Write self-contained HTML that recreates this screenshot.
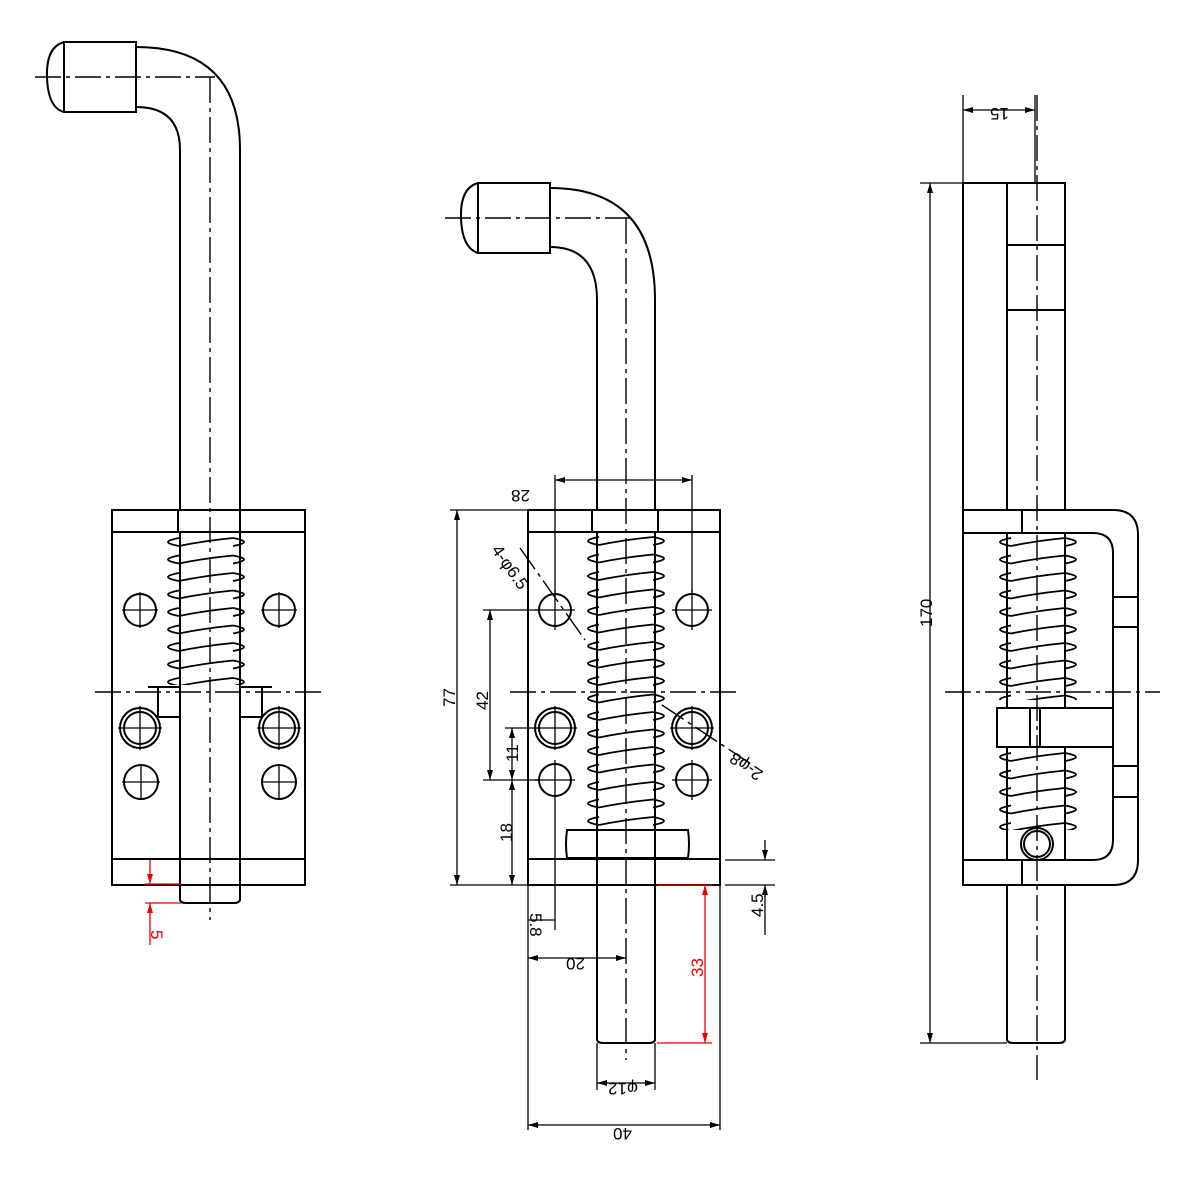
<!DOCTYPE html>
<html><head><meta charset="utf-8"><style>
html,body{margin:0;padding:0;background:#fff;}
svg{display:block;}
text{font-family:"Liberation Sans",sans-serif;font-size:17px;fill:#000;}
</style></head><body>
<svg width="1181" height="1181" viewBox="0 0 1181 1181" xmlns="http://www.w3.org/2000/svg">
<defs>
<pattern id="sp" patternUnits="userSpaceOnUse" width="86" height="17.5">
<path d="M16,3 Q-6,7 16,11 M70,3 Q92,7 70,11 M16,11 Q40,6 70,3" fill="none" stroke="#000" stroke-width="1.8"/>
</pattern>
<marker id="ar" markerWidth="10" markerHeight="6" refX="10" refY="3" orient="auto-start-reverse" markerUnits="userSpaceOnUse"><path d="M0,0 L10,3 L0,6z" fill="#000"/></marker>
<marker id="arr" markerWidth="10" markerHeight="6" refX="10" refY="3" orient="auto-start-reverse" markerUnits="userSpaceOnUse"><path d="M0,0 L10,3 L0,6z" fill="#e00"/></marker>
</defs>
<g fill="none" stroke="#000" stroke-width="2">
<!-- LEFT VIEW -->
<path d="M64,42 H136 V112 H64 Z M64,42 Q46,47 47,77 Q48,108 64,112"/>
<path d="M136,47 Q240,47 240,150 V510 M136,107 Q180,107 180,150 V510"/>
<rect x="112" y="510" width="193" height="375"/>
<path d="M112,532 H305 M112,859 H305 M178,510 V532 M240,510 V532"/>
<g transform="translate(163,535)"><rect width="86" height="150" fill="url(#sp)" stroke="none"/></g>
<path d="M180,532 V900 Q181,903 186,903 H234 Q239,903 240,900 V532"/>
<path d="M148,687 H180 V717 H158 V688 M272,687 H240 V717 H262 V688"/>
<circle cx="140" cy="610" r="16"/><circle cx="279" cy="610" r="16"/>
<circle cx="140" cy="728" r="20"/><circle cx="140" cy="728" r="16"/>
<circle cx="279" cy="728" r="20"/><circle cx="279" cy="728" r="16"/>
<circle cx="141" cy="782" r="17"/><circle cx="279" cy="782" r="17"/>
<!-- MIDDLE VIEW -->
<path d="M478,183 H550 V253 H478 Z M478,183 Q460,188 461,218 Q462,248 478,253"/>
<path d="M550,188 Q655,188 655,300 V510 M550,247 Q597,247 597,300 V510"/>
<rect x="528" y="510" width="192" height="375"/>
<path d="M528,532 H720 M528,859 H720 M592,510 V532 M658,510 V532"/>
<g transform="translate(583,534)"><rect width="86" height="297" fill="url(#sp)" stroke="none"/></g>
<path d="M597,532 V1040 Q598,1043 603,1043 H649 Q654,1043 655,1040 V532"/>
<path d="M567,830 H688 Q690,844 688,858 H567 Q565,844 567,830 Z"/>
<circle cx="555" cy="610" r="16"/><circle cx="692" cy="610" r="16"/>
<circle cx="555" cy="728" r="20"/><circle cx="555" cy="728" r="16"/>
<circle cx="692" cy="728" r="20"/><circle cx="692" cy="728" r="16"/>
<circle cx="555" cy="780" r="16"/><circle cx="692" cy="780" r="16"/>
<!-- RIGHT VIEW -->
<path d="M963,183 H1065 V1040 Q1064,1043 1059,1043 H1013 Q1008,1043 1007,1040 V183 M963,183 V510 M1007,245 H1065 M1007,310 H1065"/>
<path d="M963,510 H1113 Q1138,510 1138,535 V860 Q1138,885 1113,885 H963 Z" fill="#fff"/>
<path d="M963,533 H1093 Q1113,533 1113,553 V840 Q1113,860 1093,860 H963 M1022,510 V533 M1022,860 V885 M1007,533 V860 M1065,533 V860"/>
<g transform="translate(995,535)"><rect width="86" height="165" fill="url(#sp)" stroke="none"/></g>
<g transform="translate(995,750)"><rect width="86" height="80" fill="url(#sp)" stroke="none"/></g>
<rect x="997" y="708" width="116" height="39" fill="#fff"/>
<path d="M1030,708 V747 M1040,708 V747"/>
<path d="M1113,597 H1138 M1113,627 H1138 M1113,766 H1138 M1113,797 H1138"/>
<circle cx="1037" cy="844" r="16"/><circle cx="1037" cy="844" r="13"/>
</g>
<!-- centerlines -->
<g fill="none" stroke="#000" stroke-width="1.4" stroke-dasharray="26,5,4,5">
<path d="M35,77 H215 M210,77 V920 M95,692 H325"/>
<path d="M445,218 H630 M626,218 V1060 M510,692 H740"/>
<path d="M1037,95 V1080 M945,692 H1160"/>
<path d="M520,548 L585,640 M662,705 L760,770"/>
</g>
<g fill="none" stroke="#000" stroke-width="1.3">
<path d="M122,610 H158 M140,592 V628 M261,610 H297 M279,592 V628 M118,728 H162 M140,706 V750 M257,728 H301 M279,706 V750 M122,782 H160 M141,764 V800 M261,782 H297 M279,764 V800"/>
<path d="M535,610 H575 M555,590 V630 M672,610 H712 M692,590 V630 M533,728 H577 M555,706 V750 M670,728 H714 M692,706 V750 M535,780 H575 M555,760 V800 M672,780 H712 M692,760 V800"/>
<path d="M555,475 V595 M692,475 V595"/>
<path d="M555,480 H692" marker-start="url(#ar)" marker-end="url(#ar)"/>
<path d="M450,510 H528 M450,885 H528"/>
<path d="M457,510 V885" marker-start="url(#ar)" marker-end="url(#ar)"/>
<path d="M483,610 H540 M483,780 H540 M505,728 H540"/>
<path d="M490,610 V780" marker-start="url(#ar)" marker-end="url(#ar)"/>
<path d="M512,728 V780" marker-start="url(#ar)" marker-end="url(#ar)"/>
<path d="M512,780 V885" marker-start="url(#ar)" marker-end="url(#ar)"/>
<path d="M528,885 V1130 M720,885 V1130 M555,800 V930 M597,1043 V1090 M655,1043 V1090"/>
<path d="M528,958 H626" marker-start="url(#ar)" marker-end="url(#ar)"/>
<path d="M597,1083 H655" marker-start="url(#ar)" marker-end="url(#ar)"/>
<path d="M528,1125 H720" marker-start="url(#ar)" marker-end="url(#ar)"/>
<path d="M528,920 H555"/>
<path d="M725,860 H775 M725,885 H775"/>
<path d="M765,840 V860" marker-end="url(#ar)"/><path d="M765,905 V885" marker-end="url(#ar)"/><path d="M765,905 V935"/>
<path d="M963,95 V183 M1035,95 V183"/>
<path d="M963,110 H1035" marker-start="url(#ar)" marker-end="url(#ar)"/>
<path d="M920,183 H963 M920,1043 H1007"/>
<path d="M930,183 V1043" marker-start="url(#ar)" marker-end="url(#ar)"/>
</g>
<g fill="none" stroke="#e00" stroke-width="1.3">
<path d="M145,884 H182 M145,903 H182"/>
<path d="M150,860 V884" marker-end="url(#arr)"/><path d="M150,925 V903" marker-end="url(#arr)"/><path d="M150,925 V945"/>
<path d="M657,885 H712 M657,1043 H712"/>
<path d="M705,885 V1043" marker-start="url(#arr)" marker-end="url(#arr)"/>
</g>
<text transform="translate(530,490) rotate(180)">28</text>
<text transform="translate(455,707) rotate(-90)">77</text>
<text transform="translate(488,710) rotate(-90)">42</text>
<text transform="translate(518,762) rotate(-90)">11</text>
<text transform="translate(512,842) rotate(-90)">18</text>
<text transform="translate(530,913) rotate(90)">5.8</text>
<text transform="translate(585,958) rotate(180)">20</text>
<text transform="translate(763,917) rotate(-90)">4.5</text>
<text transform="translate(638,1083) rotate(180)">φ12</text>
<text transform="translate(632,1128) rotate(180)">40</text>
<text transform="translate(491,550) rotate(55)">4-φ6.5</text>
<text transform="translate(764,772) rotate(-145)">2-φ8</text>
<text transform="translate(703,977) rotate(-90)" style="fill:#e00">33</text>
<text transform="translate(151,930) rotate(90)" style="fill:#e00">5</text>
<text transform="translate(1009,108) rotate(180)">15</text>
<text transform="translate(932,627) rotate(-90)">170</text>
</svg>
</body></html>
